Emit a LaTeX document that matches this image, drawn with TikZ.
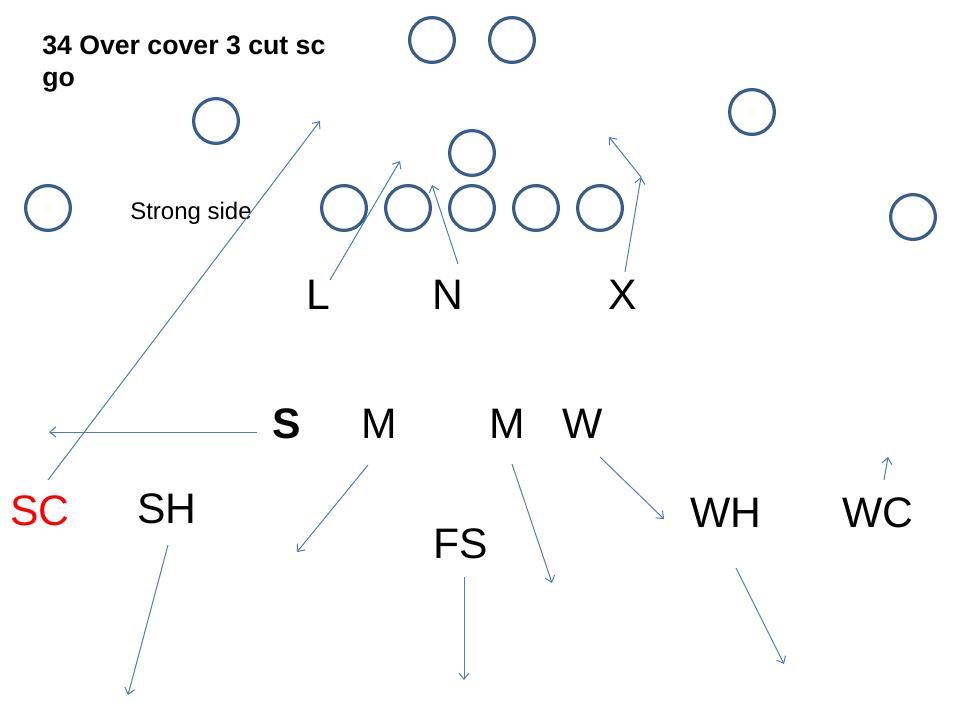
\documentclass[tikz,border=0pt]{standalone}
\usepackage{fontspec}
\setmainfont{Liberation Sans}
\usetikzlibrary{arrows.meta}
\definecolor{circblue}{HTML}{385D8A}
\definecolor{arrblue}{HTML}{4A7EBB}
\tikzset{
  player/.style={circle,draw=circblue,line width=2.4pt,minimum size=33.6pt,inner sep=0pt},
  lbl/.style={font=\fontsize{32}{38}\selectfont,inner sep=0pt,anchor=base},
  arr/.style={draw=arrblue,line width=0.75pt,-{Straight Barb[length=4.5pt,width=7.5pt]}}
}
\begin{document}
\begin{tikzpicture}[x=0.75pt,y=-0.75pt]
\useasboundingbox (0,0) rectangle (960,720);
% offense circles
\node[player] (c1) at (432,40) {};
\node[player] (c2) at (512,40) {};
\node[player] (c3) at (216,121) {};
\node[player] (c4) at (752,112) {};
\node[player] (c5) at (472,153) {};
\node[player] (c6) at (48,208) {};
\node[player] (c7) at (344,208) {};
\node[player] (c8) at (408,208) {};
\node[player] (c9) at (472,208) {};
\node[player] (c10) at (536,208) {};
\node[player] (c11) at (600,208) {};
\node[player] (c12) at (913,217) {};
% texts
\node[anchor=base west,inner sep=0pt,align=left,font=\bfseries\fontsize{20}{24}\selectfont] (title) at (42,87) {34 Over cover 3 cut sc\\go};
\node[anchor=base west,inner sep=0pt,font=\fontsize{18}{22}\selectfont] (strong) at (130,220) {Strong side};
\node[lbl] (L) at (318,310) {L};
\node[lbl] (N) at (448,310) {N};
\node[lbl] (X) at (623,310) {X};
\node[lbl,font=\bfseries\fontsize{32}{38}\selectfont] (S) at (287,438) {S};
\node[lbl] (M1) at (379,438) {M};
\node[lbl] (M2) at (507,438) {M};
\node[lbl] (W) at (583,438) {W};
\node[lbl,text=red] (SC) at (40,525) {SC};
\node[lbl] (SH) at (167,523) {SH};
\node[lbl] (FS) at (461,558) {FS};
\node[lbl] (WH) at (726,527) {WH};
\node[lbl] (WC) at (878,527) {WC};
% route coordinates
\coordinate (sca) at (48,480);   \coordinate (scb) at (320,121);
\coordinate (la) at (330,280);   \coordinate (lb) at (400,161);
\coordinate (na) at (458,264);   \coordinate (nb) at (432,185);
\coordinate (xa) at (625,272);   \coordinate (xb) at (641,177);  \coordinate (xc) at (609,137);
\coordinate (sa) at (257,432);   \coordinate (sb) at (49,432);
\coordinate (m1a) at (368,465);  \coordinate (m1b) at (297,552);
\coordinate (m2a) at (512,464);  \coordinate (m2b) at (552,583);
\coordinate (wa) at (600,457);   \coordinate (wb) at (664,519);
\coordinate (wca) at (884,480);  \coordinate (wcb) at (888,457);
\coordinate (sha) at (168,545);  \coordinate (shb) at (128,695);
\coordinate (fsa) at (464,577);  \coordinate (fsb) at (464,680);
\coordinate (wha) at (736,568);  \coordinate (whb) at (784,664);
% routes
\draw[arr] (sca) -- (scb);
\draw[arr] (la) -- (lb);
\draw[arr] (na) -- (nb);
\draw[arr] (xa) -- (xb);
\draw[arr] (xb) -- (xc);
\draw[arr] (sa) -- (sb);
\draw[arr] (m1a) -- (m1b);
\draw[arr] (m2a) -- (m2b);
\draw[arr] (wa) -- (wb);
\draw[arr] (wca) -- (wcb);
\draw[arr] (sha) -- (shb);
\draw[arr] (fsa) -- (fsb);
\draw[arr] (wha) -- (whb);
\end{tikzpicture}
\end{document}
